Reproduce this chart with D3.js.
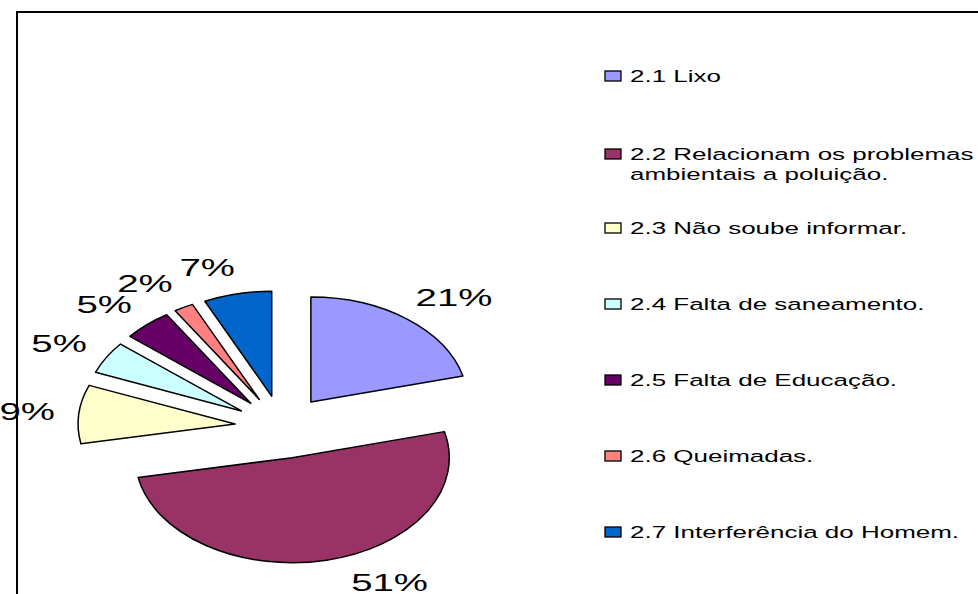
<!DOCTYPE html>
<html>
<head>
<meta charset="utf-8">
<script src="https://d3js.org/d3.v7.min.js"></script>
<style>
  body { margin: 0; background: #fff; }
  svg text { font-family: "Liberation Sans", Arial, sans-serif; fill: #000; }
</style>
</head>
<body>
<svg width="978" height="594"></svg>
<script>
// data
var categories = ["2.1 Lixo", "2.2 Relacionam os problemas|ambientais a poluição.", "2.3 Não soube informar.",
                  "2.4 Falta de saneamento.", "2.5 Falta de Educação.", "2.6 Queimadas.", "2.7 Interferência do Homem."];
var values = [21, 51, 9, 5, 5, 2, 7];
var colors = ["#9999FF", "#993366", "#FFFFCC", "#CCFFFF", "#660066", "#FF8080", "#0066CC"];

var svg = d3.select("svg"),
    width = +svg.attr("width"),
    height = +svg.attr("height");

// the original is stretched sideways, text too
var stretch = 1.6, legendStretch = 1.575;

// frame of the plot area (clipped by the window on right/bottom)
svg.append("path")
    .attr("d", "M17," + (height + 5) + "V12H" + (width + 5))
    .attr("fill", "none").attr("stroke", "#000").attr("stroke-width", 2);

// elliptical exploded pie
var cx = 282, cy = 427, rx = 157, ry = 105, explode = 0.3;
var kx = rx / ry;

var pie = d3.pie().sort(null).value(function(d) { return d; });
var arcs = pie(values);
var arc = d3.arc().innerRadius(0).outerRadius(ry);

var slices = svg.append("g").attr("class", "slices");
var labels = svg.append("g").attr("class", "labels");

arcs.forEach(function(a, i) {
    var mid = (a.startAngle + a.endAngle) / 2;
    var ox = Math.sin(mid) * explode * ry,
        oy = -Math.cos(mid) * explode * ry;
    slices.append("path")
        .attr("d", arc(a))
        .attr("transform", "translate(" + cx + "," + cy + ") scale(" + kx + ",1) translate(" + ox + "," + oy + ")")
        .attr("fill", colors[i])
        .attr("stroke", "#000")
        .attr("stroke-width", 1.5)
        .attr("vector-effect", "non-scaling-stroke")
        .attr("stroke-linejoin", "round");

    // percent label outside the slice, pushed sideways near the vertical
    var sx = cx + ox * kx, sy = cy + oy;
    var s = Math.sin(mid), c = Math.cos(mid);
    var label = values[i] + "%";
    var hw = label.length * 12.8;
    var push = c > 0 ? 0.8 : 1.45;
    var lx = sx + rx * s * 1.33 + Math.sign(s) * hw * push * Math.abs(c * c * c);
    var ly = sy - ry * c * (c > 0 ? 1.26 : 1.22);
    labels.append("text")
        .attr("transform", "translate(" + lx + "," + ly + ") scale(" + stretch + ",1)")
        .attr("text-anchor", "middle")
        .attr("dy", "0.36em")
        .attr("font-size", 24)
        .text(label);
});

// legend
var y = d3.scalePoint().domain(categories).range([76, 532]);
var legend = svg.append("g").attr("class", "legend");

categories.forEach(function(cat, i) {
    var lines = cat.split("|");
    var yy = y(cat) + (lines.length > 1 ? 2 : 0);
    legend.append("rect")
        .attr("x", 605).attr("y", yy - 5)
        .attr("width", 16).attr("height", 10)
        .attr("fill", colors[i]).attr("stroke", "#000").attr("stroke-width", 1.3);
    lines.forEach(function(t, j) {
        legend.append("text")
            .attr("transform", "translate(630," + (yy + j * 20) + ") scale(" + legendStretch + ",1)")
            .attr("dy", "0.36em")
            .attr("font-size", 16.5)
            .text(t);
    });
});
</script>
</body>
</html>
